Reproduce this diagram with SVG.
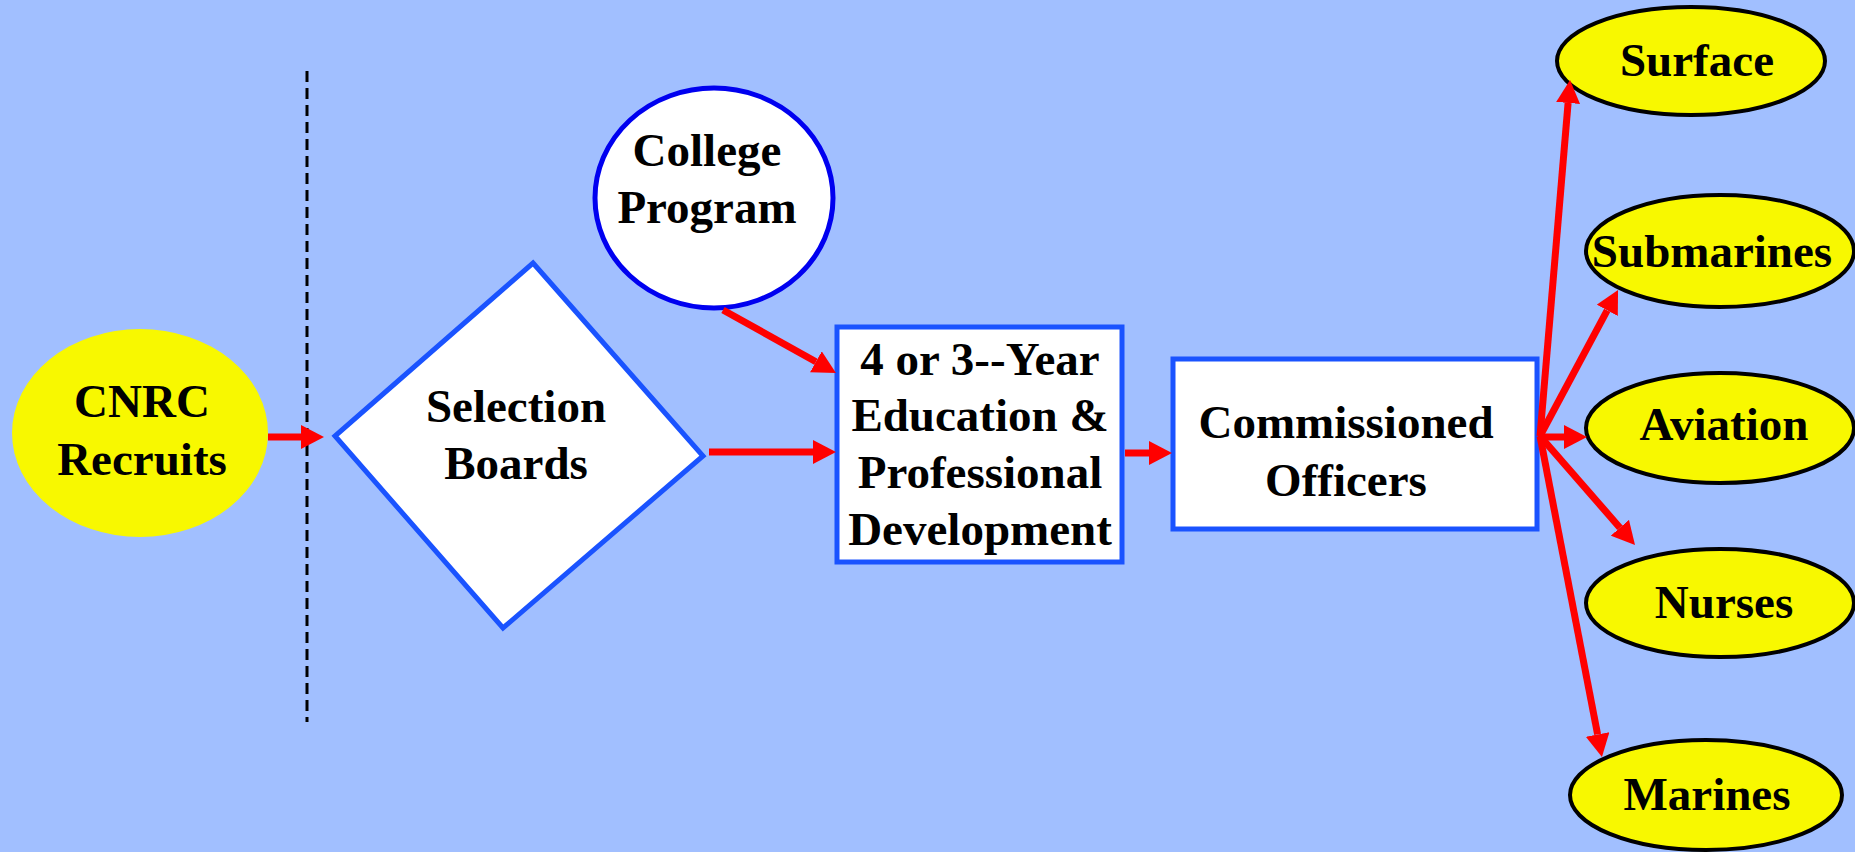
<svg xmlns="http://www.w3.org/2000/svg" width="1855" height="852" viewBox="0 0 1855 852">
<style>
.t{font-family:"Liberation Serif","Times New Roman",serif;font-weight:bold;font-size:47px;fill:#000;text-anchor:middle}
.yel{fill:#F8F800}
.out{fill:#F8F800;stroke:#000;stroke-width:4}
.blu{fill:#fff;stroke:#1A53FF;stroke-width:5}
.c{stroke:#FF0000;stroke-width:7;fill:none;marker-end:url(#ah)}
</style>
<defs>
<marker id="ah" markerUnits="userSpaceOnUse" markerWidth="24" markerHeight="24" refX="0" refY="12" orient="auto">
<path d="M0,0 L23,12 L0,24 Z" fill="#FF0000"/>
</marker>
</defs>
<rect width="1855" height="852" fill="#A1BFFF"/>
<line x1="307" y1="71" x2="307" y2="722" stroke="#000" stroke-width="3" stroke-dasharray="11,6"/>
<g id="cnrc">
<ellipse class="yel" cx="140" cy="433" rx="128" ry="104"/>
<text class="t" x="142" y="417">CNRC</text>
<text class="t" x="142" y="475">Recruits</text>
</g>
<g id="selection">
<polygon class="blu" points="533,263 703,456 503,628 335,436"/>
<text class="t" x="516" y="422">Selection</text>
<text class="t" x="516" y="479">Boards</text>
</g>
<g id="college">
<ellipse cx="714" cy="198" rx="119" ry="110" fill="#fff" stroke="#0000F0" stroke-width="5"/>
<text class="t" x="707" y="166">College</text>
<text class="t" x="707" y="223">Program</text>
</g>
<g id="education">
<rect class="blu" x="837" y="327" width="285" height="235"/>
<text class="t" x="980" y="375">4 or 3--Year</text>
<text class="t" x="980" y="431">Education &amp;</text>
<text class="t" x="980" y="488">Professional</text>
<text class="t" x="980" y="545">Development</text>
</g>
<g id="commissioned">
<rect class="blu" x="1173" y="359" width="364" height="170"/>
<text class="t" x="1346" y="438">Commissioned</text>
<text class="t" x="1346" y="496">Officers</text>
</g>
<g id="surface">
<ellipse class="out" cx="1691" cy="61" rx="134" ry="54"/>
<text class="t" x="1697" y="76">Surface</text>
</g>
<g id="submarines">
<ellipse class="out" cx="1720" cy="251" rx="134" ry="56"/>
<text class="t" x="1712" y="267">Submarines</text>
</g>
<g id="aviation">
<ellipse class="out" cx="1720" cy="428" rx="134" ry="55"/>
<text class="t" x="1724" y="440">Aviation</text>
</g>
<g id="nurses">
<ellipse class="out" cx="1720" cy="603" rx="134" ry="54"/>
<text class="t" x="1724" y="618">Nurses</text>
</g>
<g id="marines">
<ellipse class="out" cx="1706" cy="795" rx="136" ry="55"/>
<text class="t" x="1707" y="810">Marines</text>
</g>
<g id="connectors">
<line class="c" x1="268" y1="437" x2="301" y2="437"/>
<line class="c" x1="723" y1="310" x2="815.9" y2="361.8"/>
<line class="c" x1="709" y1="452" x2="813" y2="452"/>
<line class="c" x1="1125" y1="453" x2="1149" y2="453"/>
<line class="c" x1="1540" y1="436" x2="1568.1" y2="102.9"/>
<line class="c" x1="1540" y1="436" x2="1607.2" y2="310.3"/>
<line class="c" x1="1538" y1="437" x2="1564" y2="437"/>
<line class="c" x1="1540" y1="436" x2="1619.9" y2="527.7"/>
<line class="c" x1="1540" y1="436" x2="1597.6" y2="734.4"/>
</g>
</svg>
